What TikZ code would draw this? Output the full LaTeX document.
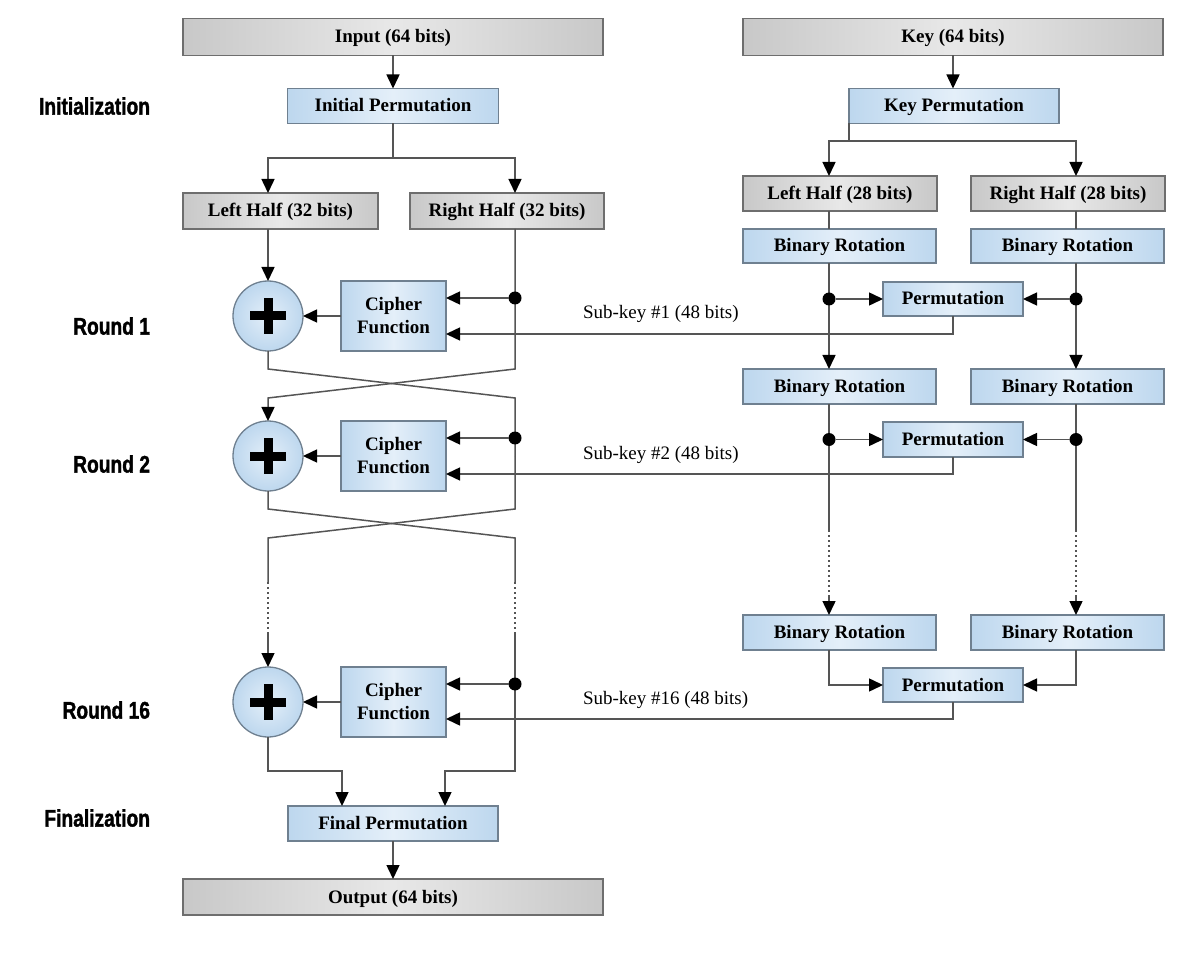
\documentclass[tikz,border=0pt]{standalone}
\usepackage{fontspec}
\setmainfont{Liberation Serif}
\newfontfamily\condfont[FakeStretch=0.8,FakeBold=1.5]{Liberation Sans}
\usetikzlibrary{arrows.meta,calc}
\definecolor{boxblue}{HTML}{BDD7EE}
\definecolor{boxbluec}{HTML}{E4EFF9}
\definecolor{grayedge}{HTML}{C8C8C8}
\definecolor{graymid}{HTML}{E8E8E8}
\definecolor{bordergray}{HTML}{6E6E6E}
\definecolor{borderblue}{HTML}{6F8090}
\definecolor{wire}{HTML}{555555}
\begin{document}
\begin{tikzpicture}[x=1pt,y=-1pt,
  every node/.style={inner sep=0pt, outer sep=0pt, font=\fontsize{19}{23}\selectfont\bfseries},
  one/.style={text height=14pt, text depth=2pt},
  graybox/.style={one, draw=bordergray, line width=1.3pt, left color=grayedge, right color=grayedge, middle color=graymid},
  bluebox/.style={one, draw=borderblue, line width=1.3pt, left color=boxblue, right color=boxblue, middle color=boxbluec},
  cipherbox/.style={draw=borderblue, line width=1.3pt, left color=boxblue, right color=boxblue, middle color=boxbluec, minimum width=105pt, minimum height=70pt, align=center},
  xorn/.style={circle, draw=borderblue, line width=1.3pt, inner color=boxbluec, outer color=boxblue, minimum size=70pt},
  dotn/.style={circle, fill=black, minimum size=13pt},
  wire/.style={draw=wire, line width=1.5pt},
  dotted wire/.style={draw=wire, line width=1.5pt, dash pattern=on 2pt off 3pt},
  >={Triangle[length=14pt,width=13pt,color=black]},
  rlabel/.style={anchor=east, font=\condfont\bfseries\fontsize{24}{26}\selectfont},
  sklabel/.style={anchor=west, font=\fontsize{19}{23}\selectfont},
  plus/.style={line width=9pt, black}
]
\path[use as bounding box] (0,0) rectangle (1194,957);

% ---------- left column nodes ----------
\node[graybox, minimum width=420pt, minimum height=37pt] (in) at (393,37) {Input (64 bits)};
\node[bluebox, minimum width=211pt, minimum height=35pt] (ip) at (393,106) {Initial Permutation};
\node[graybox, minimum width=195pt, minimum height=36pt] (lh) at (280.5,211) {Left Half (32 bits)};
\node[graybox, minimum width=194pt, minimum height=36pt] (rh) at (507,211) {Right Half (32 bits)};

\node[xorn] (xor1) at (268,316) {};
\node[xorn] (xor2) at (268,456) {};
\node[xorn] (xor3) at (268,702) {};
\node[cipherbox] (cf1) at (393.5,316) {Cipher\\Function};
\node[cipherbox] (cf2) at (393.5,456) {Cipher\\Function};
\node[cipherbox] (cf3) at (393.5,702) {Cipher\\Function};

\node[bluebox, minimum width=210pt, minimum height=35pt] (fp) at (393,823.5) {Final Permutation};
\node[graybox, minimum width=420pt, minimum height=36pt] (out) at (393,897) {Output (64 bits)};

% ---------- key column nodes ----------
\node[graybox, minimum width=420pt, minimum height=37pt] (key) at (953,37) {Key (64 bits)};
\node[bluebox, minimum width=210pt, minimum height=35pt] (kp) at (954,106) {Key Permutation};
\node[graybox, minimum width=194pt, minimum height=35pt] (klh) at (840,193.5) {Left Half (28 bits)};
\node[graybox, minimum width=194pt, minimum height=35pt] (krh) at (1068,193.5) {Right Half (28 bits)};
\node[bluebox, minimum width=193pt, minimum height=34pt] (br1L) at (839.5,246) {Binary Rotation};
\node[bluebox, minimum width=193pt, minimum height=34pt] (br1R) at (1067.5,246) {Binary Rotation};
\node[bluebox, minimum width=140pt, minimum height=34pt] (perm1) at (953,299) {Permutation};
\node[bluebox, minimum width=193pt, minimum height=35pt] (br2L) at (839.5,386.5) {Binary Rotation};
\node[bluebox, minimum width=193pt, minimum height=35pt] (br2R) at (1067.5,386.5) {Binary Rotation};
\node[bluebox, minimum width=140pt, minimum height=35pt] (perm2) at (953,439.5) {Permutation};
\node[bluebox, minimum width=193pt, minimum height=35pt] (br3L) at (839.5,632.5) {Binary Rotation};
\node[bluebox, minimum width=193pt, minimum height=35pt] (br3R) at (1067.5,632.5) {Binary Rotation};
\node[bluebox, minimum width=140pt, minimum height=34pt] (perm3) at (953,685) {Permutation};

% ---------- row labels ----------
\node[rlabel] (lInit) at (150,106) {Initialization};
\node[rlabel] (lR1) at (150,326) {Round 1};
\node[rlabel] (lR2) at (150,464) {Round 2};
\node[rlabel] (lR16) at (150,710) {Round 16};
\node[rlabel] (lFin) at (150,818) {Finalization};

\node[sklabel] (sk1) at (583,314) {Sub-key \#1 (48 bits)};
\node[sklabel] (sk2) at (583,455) {Sub-key \#2 (48 bits)};
\node[sklabel] (sk16) at (583,700) {Sub-key \#16 (48 bits)};

% ---------- helper coordinates ----------
\coordinate (xl) at (268,0);
\coordinate (xr) at (515,0);
\coordinate (kl) at (829,0);
\coordinate (kr) at (1076,0);
\coordinate (split1) at (393,158);
\coordinate (split2) at (849,141);

% ---------- left column wires ----------
\draw[wire,->] (in) -- (ip);
\draw[wire] (ip.south) -- (split1);
\draw[wire,->] (split1) -| (lh.north -| xl);
\draw[wire,->] (split1) -| (rh.north -| xr);
\draw[wire,->] (lh.south -| xl) -- (xor1.north);

% round 1
\draw[wire,->] (rh.south -| xr) -- (515,369) -- (268,398) -- (xor2.north);
\draw[wire] (xor1.south) -- (268,369) -- (515,398) -- (515,456);
% round 2
\draw[wire] (515,456) -- (515,509) -- (268,538) -- (268,582);
\draw[wire] (xor2.south) -- (268,509) -- (515,538) -- (515,582);
\draw[dotted wire] (268,582) -- (268,633);
\draw[dotted wire] (515,582) -- (515,633);
\draw[wire,->] (268,633) -- (xor3.north);
\draw[wire] (515,633) -- (515,702);
% round 16 to final
\draw[wire,->] (xor3.south) -- (268,771) -| ($(fp.north)+(-51,0)$);
\draw[wire,->] (515,702) -- (515,771) -| ($(fp.north)+(52,0)$);
\draw[wire,->] (fp) -- (out);

% dots and cipher inputs
\node[dotn] (d1) at (515,298) {};
\node[dotn] (d2) at (515,438) {};
\node[dotn] (d3) at (515,684) {};
\draw[wire,->] (d1) -- (d1 -| cf1.east);
\draw[wire,->] (d2) -- (d2 -| cf2.east);
\draw[wire,->] (d3) -- (d3 -| cf3.east);
\draw[wire,->] (cf1) -- (xor1);
\draw[wire,->] (cf2) -- (xor2);
\draw[wire,->] (cf3) -- (xor3);

% sub-keys
\draw[wire,->] (perm1.south) |- ($(cf1.east)+(0,18)$);
\draw[wire,->] (perm2.south) |- ($(cf2.east)+(0,18)$);
\draw[wire,->] (perm3.south) |- ($(cf3.east)+(0,17)$);

% plus signs
\foreach \n in {xor1,xor2,xor3}{
  \draw[plus] ($(\n.center)+(-18,0)$) -- ($(\n.center)+(18,0)$);
  \draw[plus] ($(\n.center)+(0,-18)$) -- ($(\n.center)+(0,18)$);
}

% ---------- key column wires ----------
\draw[wire,->] (key) -- (key.south |- kp.north);
\draw[wire] (kp.south -| split2) -- (split2);
\draw[wire,->] (split2) -| (klh.north -| kl);
\draw[wire,->] (split2) -| (krh.north -| kr);
\draw[wire] (klh.south -| kl) -- (br1L.north -| kl);
\draw[wire] (krh.south -| kr) -- (br1R.north -| kr);

\draw[wire,->] (br1L.south -| kl) -- (br2L.north -| kl);
\draw[wire,->] (br1R.south -| kr) -- (br2R.north -| kr);
\node[dotn] (k1L) at (829,299) {};
\node[dotn] (k1R) at (1076,299) {};
\draw[wire,->] (k1L) -- (perm1.west);
\draw[wire,->] (k1R) -- (perm1.east);

\draw[wire] (br2L.south -| kl) -- (829,530);
\draw[wire] (br2R.south -| kr) -- (1076,530);
\draw[dotted wire] (829,530) -- (829,597);
\draw[dotted wire] (1076,530) -- (1076,597);
\draw[wire,->] (829,597) -- (br3L.north -| kl);
\draw[wire,->] (1076,597) -- (br3R.north -| kr);
\node[dotn] (k2L) at (829,439.5) {};
\node[dotn] (k2R) at (1076,439.5) {};
\draw[wire,->] (k2L) -- (perm2.west);
\draw[wire,->] (k2R) -- (perm2.east);

\draw[wire,->] (br3L.south -| kl) |- (perm3.west);
\draw[wire,->] (br3R.south -| kr) |- (perm3.east);
\end{tikzpicture}
\end{document}
